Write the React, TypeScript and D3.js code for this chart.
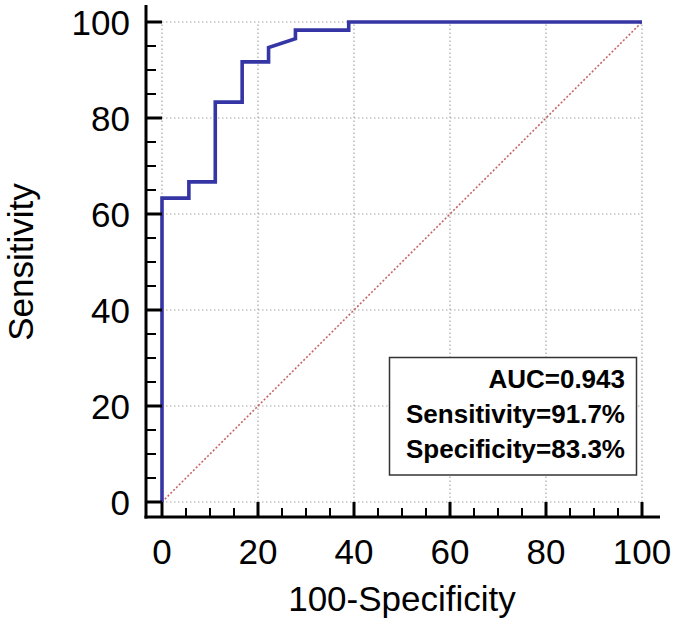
import React from "react";
import * as d3 from "d3";

const fpr = [0, 0, 5.6, 5.6, 11.1, 11.1, 16.7, 16.7, 22.2, 22.2, 27.8, 27.8, 38.9, 38.9, 100];
const tpr = [0, 63.3, 63.3, 66.7, 66.7, 83.3, 83.3, 91.7, 91.7, 94.7, 96.5, 98.3, 98.3, 100, 100];
const majorTicks = [0, 20, 40, 60, 80, 100];
const minorTicks = d3.range(0, 101, 5).filter((v) => v % 20 !== 0);
const legendLines = ["AUC=0.943", "Sensitivity=91.7%", "Specificity=83.3%"];

const W = 675;
const H = 623;
const font = "'Liberation Sans', Arial, sans-serif";

export default function App() {
  const x = d3.scaleLinear().domain([0, 100]).range([162, 642]);
  const y = d3.scaleLinear().domain([0, 100]).range([502, 22]);
  const axisX = 146;
  const axisY = 517;
  const pts = fpr.map((v, i) => [v, tpr[i]] as [number, number]);
  const line = d3
    .line<[number, number]>()
    .x((d) => x(d[0]))
    .y((d) => y(d[1]));

  return (
    <svg
      width={W}
      height={H}
      style={{ position: "absolute", left: 0, top: 0, background: "#fff" }}
      fontFamily={font}
    >
      <rect x={0} y={0} width={W} height={H} fill="#fff" />
      {/* grid */}
      {majorTicks.map((t) => (
        <g key={"g" + t}>
          <line x1={x(t)} x2={x(t)} y1={y(0)} y2={y(100)} stroke="#a8a8a8" strokeWidth={1.2} strokeDasharray="1.5,2.5" />
          <line x1={x(0)} x2={x(100)} y1={y(t)} y2={y(t)} stroke="#a8a8a8" strokeWidth={1.2} strokeDasharray="1.5,2.5" />
        </g>
      ))}
      {/* diagonal */}
      <line x1={x(0)} y1={y(0)} x2={x(100)} y2={y(100)} stroke="#c86464" strokeWidth={1.6} strokeDasharray="2,2" />
      {/* ROC */}
      <path d={line(pts) || ""} fill="none" stroke="#3535a5" strokeWidth={3.6} strokeLinejoin="miter" />
      {/* axes */}
      <line x1={axisX} x2={axisX} y1={5} y2={axisY + 1.5} stroke="#000" strokeWidth={3} />
      <line x1={axisX - 1.5} x2={660} y1={axisY} y2={axisY} stroke="#000" strokeWidth={3} />
      {majorTicks.map((t) => (
        <g key={"m" + t}>
          <line x1={axisX} x2={x(0)} y1={y(t)} y2={y(t)} stroke="#000" strokeWidth={3} />
          <line x1={x(t)} x2={x(t)} y1={axisY} y2={y(0)} stroke="#000" strokeWidth={3} />
          <text x={x(t)} y={564} textAnchor="middle" fontSize={35} fill="#000">
            {t}
          </text>
          <text x={130} y={y(t) + 12.5} textAnchor="end" fontSize={35} fill="#000">
            {t}
          </text>
        </g>
      ))}
      {minorTicks.map((t) => (
        <g key={"n" + t}>
          <line x1={axisX} x2={axisX + 10} y1={y(t)} y2={y(t)} stroke="#000" strokeWidth={2} />
          <line x1={x(t)} x2={x(t)} y1={axisY} y2={axisY - 9} stroke="#000" strokeWidth={2} />
        </g>
      ))}
      {/* axis titles */}
      <text x={(x(0) + x(100)) / 2} y={611} textAnchor="middle" fontSize={35} fill="#000">
        100-Specificity
      </text>
      <text
        transform={`translate(33, ${(y(0) + y(100)) / 2}) rotate(-90)`}
        textAnchor="middle"
        fontSize={35}
        fill="#000"
      >
        Sensitivity
      </text>
      {/* legend box */}
      <rect x={389.5} y={357.5} width={247} height={117.5} fill="#fff" stroke="#333" strokeWidth={1.5} />
      {legendLines.map((s, i) => (
        <text key={s} x={625} y={388 + i * 35} textAnchor="end" fontSize={26} fontWeight="bold" fill="#000">
          {s}
        </text>
      ))}
    </svg>
  );
}
